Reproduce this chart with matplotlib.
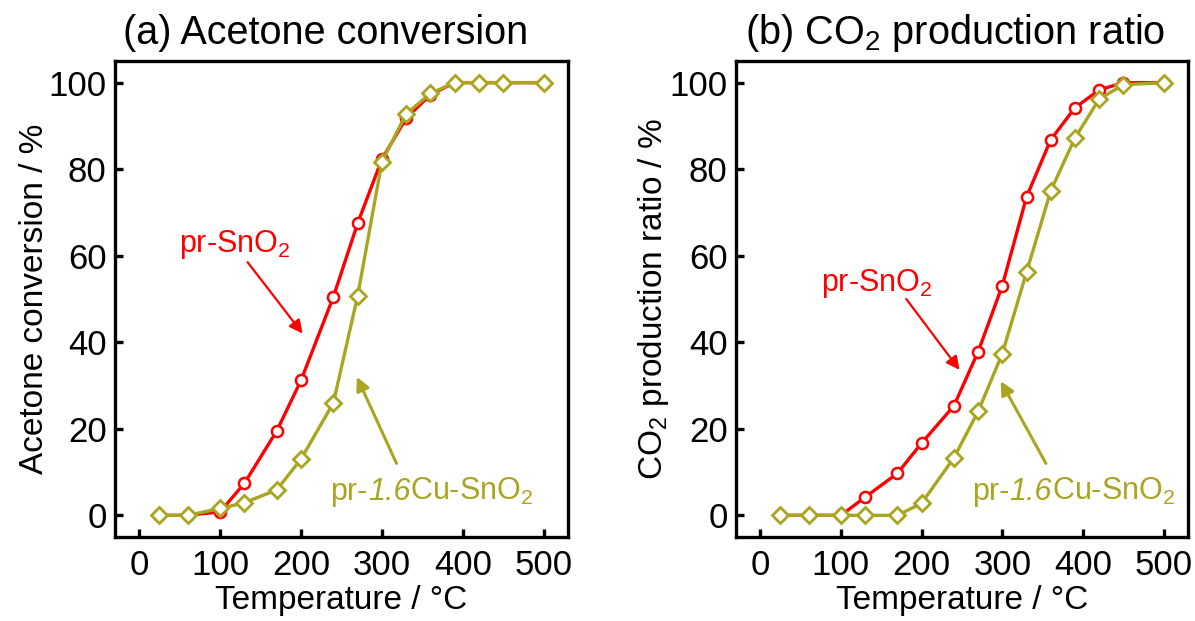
import matplotlib
matplotlib.use("Agg")
import matplotlib.pyplot as plt
from matplotlib.offsetbox import TextArea, HPacker, AnnotationBbox

plt.rcParams['font.family'] = ['Liberation Sans', 'DejaVu Sans']
plt.rcParams['mathtext.fontset'] = 'custom'
plt.rcParams['mathtext.rm'] = 'Liberation Sans'

# temperatures (°C)
temp = [25, 60, 100, 130, 170, 200, 240, 270, 300, 330, 360, 390, 420, 450, 500]

# (a) acetone conversion / %
conv_sno2 = [0, 0, 0.8, 7.4, 19.5, 31.2, 50.5, 67.5, 82.3, 91.8, 97.2, 100, 100, 100, 100]
conv_cu = [0, 0, 1.6, 2.9, 5.9, 13, 26, 50.7, 81.7, 92.8, 97.5, 100, 100, 100, 100]

# (b) CO2 production ratio / %
co2_sno2 = [0, 0, 0, 4.2, 9.7, 16.7, 25.3, 37.8, 53.1, 73.6, 86.8, 94.2, 98.3, 100, 100]
co2_cu = [0, 0, 0, 0, 0, 2.8, 13.3, 24.0, 37.4, 56.2, 75.0, 87.2, 96.2, 99.5, 100]

RED = '#FF0000'
OLIVE = '#AAA520'

fig = plt.figure(figsize=(11.95, 6.21), dpi=100)
ax1 = fig.add_axes([0.0962, 0.1353, 0.3791, 0.7665])
ax2 = fig.add_axes([0.6159, 0.1353, 0.3782, 0.7665])


def draw(ax, y_red, y_olive, title, ylabel, tx):
    ax.plot(temp, y_red, '-o', color=RED, lw=2.4, ms=8, mfc='white',
            mec=RED, mew=1.8, zorder=3)
    ax.plot(temp, y_olive, '-D', color=OLIVE, lw=2.4, ms=8, mfc='white',
            mec=OLIVE, mew=2.0, zorder=4)
    ax.set_xlim(-30, 530)
    ax.set_ylim(-5, 105)
    ax.set_xticks([0, 100, 200, 300, 400, 500])
    ax.set_yticks([0, 20, 40, 60, 80, 100])
    ax.tick_params(direction='in', length=6, width=2.4, labelsize=25,
                   top=False, right=False)
    ax.tick_params(axis='y', pad=6)
    ax.tick_params(axis='x', pad=9)
    for s in ax.spines.values():
        s.set_linewidth(2.4)
    ax.set_xlabel('Temperature / °C', fontsize=24, labelpad=2)
    ax.set_ylabel(ylabel, fontsize=24, labelpad=-1)
    t = ax.set_title(title, fontsize=28.5, pad=12)
    t.set_x(tx)


def cu_label(ax, x, y):
    tp = dict(color=OLIVE, fontsize=22)
    parts = [TextArea('pr-', textprops=tp),
             TextArea('1.6', textprops=dict(tp, style='italic')),
             TextArea('Cu-SnO$_2$', textprops=tp)]
    box = HPacker(children=parts, align='baseline', pad=0, sep=0)
    ab = AnnotationBbox(box, (x, y), xycoords='data', frameon=False,
                        box_alignment=(0.5, 0.5), pad=0)
    ax.add_artist(ab)


def arrow(ax, head, tail, color, lw):
    ax.annotate('', xy=head, xytext=tail,
                arrowprops=dict(arrowstyle='-|>', color=color, lw=lw,
                                mutation_scale=20, shrinkA=0, shrinkB=0))


draw(ax1, conv_sno2, conv_cu, '(a) Acetone conversion', 'Acetone conversion / %', 0.466)
draw(ax2, co2_sno2, co2_cu, r'(b) CO$_2$ production ratio',
     r'CO$_2$ production ratio / %', 0.485)

ax1.text(118, 62.5, 'pr-SnO$_2$', color=RED, fontsize=22, ha='center', va='center')
arrow(ax1, (202, 42), (134, 58.5), RED, 1.6)
cu_label(ax1, 362, 5.5)
arrow(ax1, (269, 32), (318, 12), OLIVE, 2.2)

ax2.text(145, 53.5, 'pr-SnO$_2$', color=RED, fontsize=22, ha='center', va='center')
arrow(ax2, (247, 33.6), (181, 50), RED, 1.6)
cu_label(ax2, 388, 5.5)
arrow(ax2, (298, 31), (354, 12), OLIVE, 2.2)

fig.savefig('out.png', dpi=100)
